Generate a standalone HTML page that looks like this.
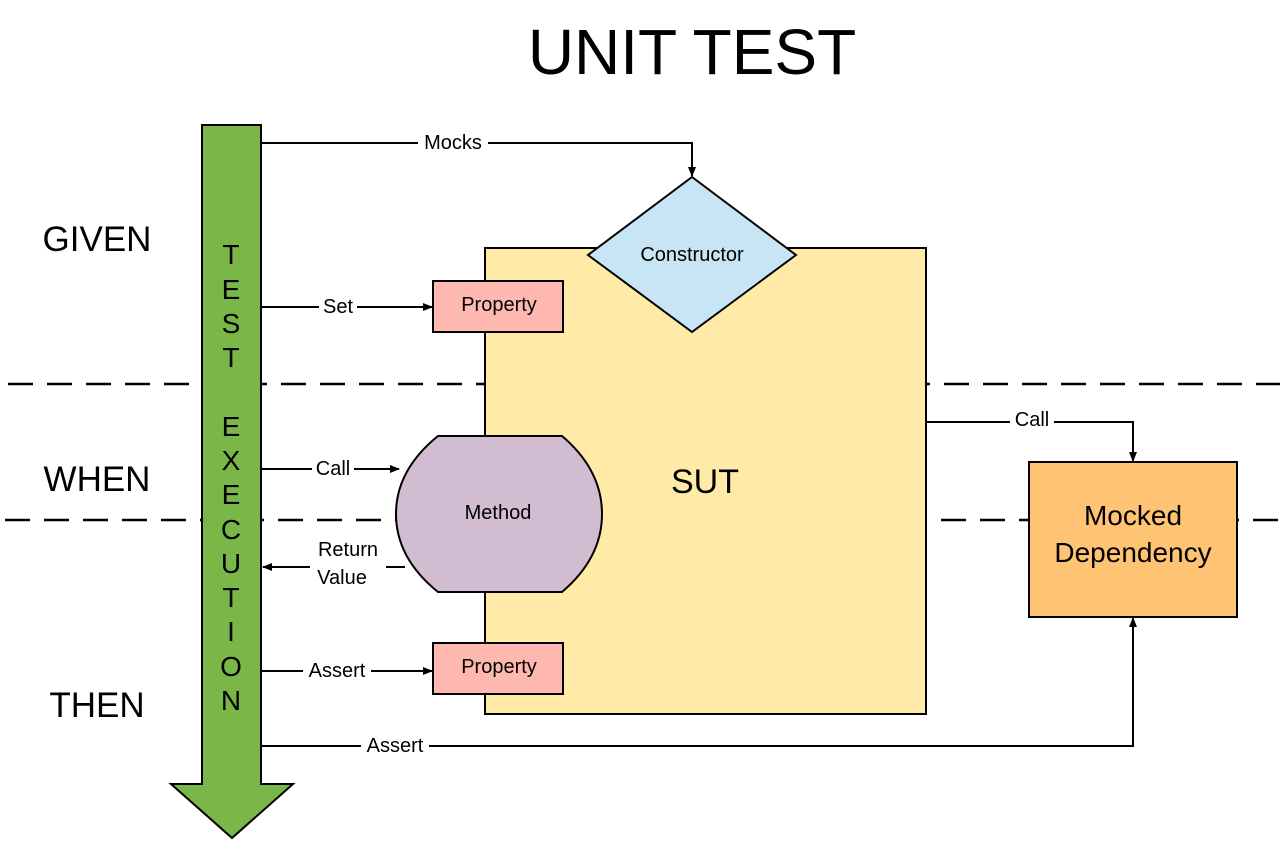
<!DOCTYPE html>
<html><head><meta charset="utf-8"><style>
html,body{margin:0;padding:0;background:#fff;}
svg{display:block;font-family:"Liberation Sans",sans-serif;}
</style></head><body>
<svg width="1280" height="847" viewBox="0 0 1280 847" xmlns="http://www.w3.org/2000/svg">
<defs>
<marker id="ah" markerWidth="10" markerHeight="10" refX="9" refY="5" orient="auto" markerUnits="userSpaceOnUse" viewBox="0 0 10 10">
<path d="M0,1 L10,5 L0,9 z" fill="#000"/>
</marker>
</defs>
<text x="692" y="74" font-size="64" text-anchor="middle" fill="#000">UNIT TEST</text>
<text x="97" y="251" font-size="35" text-anchor="middle">GIVEN</text>
<text x="97" y="491" font-size="35" text-anchor="middle">WHEN</text>
<text x="97" y="717" font-size="35" text-anchor="middle">THEN</text>
<g stroke="#000" stroke-width="2.5" stroke-dasharray="25 14">
<line x1="8" y1="384" x2="1280" y2="384"/>
<line x1="5" y1="520" x2="1280" y2="520"/>
</g>
<rect x="485" y="248" width="441" height="466" fill="#ffeaa7" stroke="#000" stroke-width="2"/>
<text x="705" y="493" font-size="34" text-anchor="middle">SUT</text>
<path d="M202,125 H261 V784 H293 L232,838 L171,784 H202 Z" fill="#7ab648" stroke="#000" stroke-width="2"/>
<g font-size="28" text-anchor="middle">
<text x="231" y="264">T</text><text x="231" y="299">E</text><text x="231" y="333">S</text><text x="231" y="367">T</text>
<text x="231" y="436">E</text><text x="231" y="470">X</text><text x="231" y="504">E</text><text x="231" y="539">C</text>
<text x="231" y="573">U</text><text x="231" y="607">T</text><text x="231" y="641">I</text><text x="231" y="676">O</text><text x="231" y="710">N</text>
</g>
<polygon points="692,177 796,255 692,332 588,255" fill="#c7e5f5" stroke="#000" stroke-width="2"/>
<text x="692" y="261" font-size="20" text-anchor="middle">Constructor</text>
<rect x="433" y="281" width="130" height="51" fill="#ffb8b0" stroke="#000" stroke-width="2"/>
<text x="499" y="311" font-size="20" text-anchor="middle">Property</text>
<rect x="433" y="643" width="130" height="51" fill="#ffb8b0" stroke="#000" stroke-width="2"/>
<text x="499" y="673" font-size="20" text-anchor="middle">Property</text>
<path d="M438,436 H562 Q602,470 602,514 Q602,558 562,592 H438 Q396,558 396,514 Q396,470 438,436 Z" fill="#d1bcd2" stroke="#000" stroke-width="2"/>
<text x="498" y="519" font-size="20" text-anchor="middle">Method</text>
<rect x="1029" y="462" width="208" height="155" fill="#ffc374" stroke="#000" stroke-width="2"/>
<text x="1133" y="525" font-size="28" text-anchor="middle">Mocked</text>
<text x="1133" y="562" font-size="28" text-anchor="middle">Dependency</text>
<g stroke="#000" stroke-width="2" fill="none">
<polyline points="261,143 692,143 692,176" marker-end="url(#ah)"/>
<line x1="261" y1="307" x2="432" y2="307" marker-end="url(#ah)"/>
<line x1="261" y1="469" x2="399" y2="469" marker-end="url(#ah)"/>
<line x1="405" y1="567" x2="263" y2="567" marker-end="url(#ah)"/>
<line x1="261" y1="671" x2="432" y2="671" marker-end="url(#ah)"/>
<polyline points="926,422 1133,422 1133,461" marker-end="url(#ah)"/>
<polyline points="261,746 1133,746 1133,618" marker-end="url(#ah)"/>
</g>
<g font-size="20" text-anchor="middle">
<rect x="418" y="131" width="70" height="22" fill="#fff"/><text x="453" y="149">Mocks</text>
<rect x="319" y="295" width="38" height="22" fill="#fff"/><text x="338" y="313">Set</text>
<rect x="312" y="457" width="42" height="22" fill="#fff"/><text x="333" y="475">Call</text>
<rect x="310" y="540" width="76" height="50" fill="#fff"/><text x="348" y="556">Return</text><text x="342" y="584">Value</text>
<rect x="303" y="659" width="68" height="22" fill="#fff"/><text x="337" y="677">Assert</text>
<rect x="1010" y="410" width="44" height="22" fill="#fff"/><text x="1032" y="426">Call</text>
<rect x="361" y="734" width="68" height="22" fill="#fff"/><text x="395" y="752">Assert</text>
</g>
</svg>
</body></html>
